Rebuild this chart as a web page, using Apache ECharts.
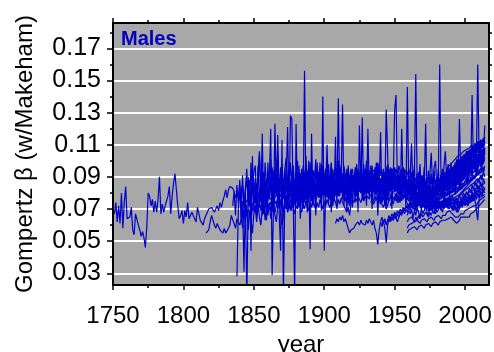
<!DOCTYPE html>
<html>
<head>
<meta charset="utf-8">
<script src="https://cdn.jsdelivr.net/npm/echarts@6/dist/echarts.min.js"></script>
<style>
  html, body { margin: 0; padding: 0; background: #fff; }
  #chart { width: 494px; height: 352px; }
</style>
</head>
<body>
<div id="chart"></div>
<script>
// Gompertz beta (model with Makeham term), males, one line per population.
const xTicks = [1750, 1800, 1850, 1900, 1950, 2000];
const xMinorTicks = [1775, 1825, 1875, 1925, 1975];
const yTicks = [0.03, 0.05, 0.07, 0.09, 0.11, 0.13, 0.15, 0.17];
const yMinorTicks = [0.04, 0.06, 0.08, 0.10, 0.12, 0.14, 0.16, 0.18];
const yRightTicks = [0.03, 0.04, 0.05, 0.06, 0.07, 0.08, 0.09, 0.10, 0.11, 0.12, 0.13, 0.14, 0.15, 0.16, 0.17, 0.18];
const panelTitle = 'Males';

// Each population: first year, then one value per year.
const swedenStart = 1751;
const sweden = [
  .067,.074,.062,.072,.061,.080,.058,.074,.084,.064,
  .063,.065,.071,.057,.054,.067,.066,.060,.057,.053,
  .056,.052,.046,.059,.080,.078,.072,.076,.068,.075,
  .068,.076,.090,.067,.073,.068,.072,.075,.078,.084,
  .067,.078,.086,.092,.082,.072,.064,.066,.069,.061,
  .069,.065,.074,.064,.066,.068,.067,.064,.062,.071,
  .067,.063,.062,.060,.064,
  .066,.068,.070,.069,.071,.072,.068,.070,.072,.069,.074,.071,.075,.078,.082,.077,.082,.084,.085,.083,.081,.077,.080,.078,.076,
  .076,.085,.073,.082,.088,.075,.084,.070,.089,.079,
  .074,.086,.080,.072,.090,.081,.076,.088,.078,.084,
  .077,.089,.081,.073,.086,.079,.092,.076,.083,.087,
  .080,.074,.085,.090,.077,.083,.088,.079,.086,.075,
  .087,.082,.076,.091,.084,.078,.088,.081,.093,.083,
  .079,.089,.082,.094,.085,.077,.088,.092,.080,.087,
  .083,.091,.078,.086,.093,.081,.089,.084,.087,.095,
  .082,.090,.085,.088,.079,.086,.094,.076,.089,.083,
  .091,.084,.095,.080,.088,.097,.083,.090,.081,.094,
  .086,.079,.093,.084,.090,.078,.087,.096,.082,.089,
  .080,.092,.087,.078,.091,.085,.094,.081,.088,.096,
  .085,.083,.086,.084,.082,.085,.087,.083,.086,.084,
  .086,.084,.082,.085,.083,.086,.084,.087,.083,.085,
  .083,.086,.084,.082,.085,.087,.084,.086,.088,.085,
  .087,.089,.086,.090,.088,.091,.089,.092,.090,.093,
  .091,.094,.092,.095,.093,.096,.094,.097,.095,.098,
  .097,.099,.096,.100,.098,.101,.099,.102,.100,.103,
  .101,.104,.102,.105
];

const franceStart = 1816;
const france = [
  .055,.056,.057,.062,.066,.065,.060,.058,.061,.059,.057,.056,.055,.058,.055,.056,.058,.060,.066,.067,.061,.058,.064,.062,.060,
  .063,.067,.065,.069,.066,.070,.068,.064,.071,.069,
  .072,.070,.068,.073,.071,.074,.069,.072,.075,.073,
  .071,.074,.076,.072,.075,.073,.077,.074,.076,.070,
  .068,.076,.078,.075,.077,.079,.076,.078,.080,.077,
  .079,.077,.080,.078,.081,.079,.077,.080,.082,.078,
  .080,.078,.081,.079,.082,.080,.078,.081,.079,.082,
  .080,.083,.081,.079,.082,.080,.083,.081,.084,.082,
  .080,.083,.081,.077,.075,.078,.076,.072,.079,.082,
  .081,.083,.080,.084,.082,.080,.083,.081,.084,.082,
  .080,.083,.081,.084,.082,.080,.083,.081,.079,.076,
  .074,.077,.079,.075,.078,.082,.084,.083,.085,.083,
  .084,.082,.085,.083,.086,.084,.082,.085,.083,.086,
  .084,.082,.085,.083,.081,.084,.082,.085,.083,.081,
  .083,.081,.084,.082,.080,.083,.081,.084,.082,.085,
  .083,.086,.084,.087,.085,.088,.086,.089,.087,.090,
  .088,.091,.089,.092,.090,.093,.091,.094,.092,.095,
  .094,.096,.093,.097,.095,.098,.096,.099,.097,.100,
  .099,.101,.098,.102
];

const denmarkStart = 1835;
const denmark = [
  .072,.081,.066,.085,.074,.088,
  .070,.091,.068,.083,.095,.072,.086,.064,.093,.077,
  .089,.070,.097,.075,.087,.066,.092,.081,.071,.099,
  .076,.090,.068,.094,.079,.101,.073,.085,.096,.070,
  .088,.078,.098,.072,.091,.083,.069,.095,.080,.087,
  .074,.097,.082,.090,.071,.093,.086,.077,.100,.079,
  .092,.075,.088,.096,.078,.085,.099,.073,.090,.083,
  .095,.077,.089,.082,.098,.074,.091,.085,.079,.094,
  .081,.096,.076,.088,.092,.079,.097,.084,.075,.090,
  .086,.093,.078,.095,.083,.089,.076,.098,.085,.091,
  .080,.094,.087,.077,.092,.085,.099,.082,.088,.079,
  .093,.084,.090,.078,.096,.086,.081,.094,.088,.083,
  .084,.087,.083,.086,.082,.085,.088,.084,.087,.083,
  .086,.083,.087,.084,.081,.085,.082,.086,.083,.080,
  .084,.081,.079,.083,.080,.078,.082,.079,.077,.081,
  .078,.080,.077,.079,.076,.080,.078,.081,.079,.082,
  .080,.083,.081,.084,.082,.085,.083,.086,.084,.087,
  .086,.089,.087,.090,.088,.091,.089,.093,.091,.094,
  .093,.096,.094,.097
];

const icelandStart = 1838;
const iceland = [
  .028,.070,.085,
  .062,.075,.031,.080,.015,.072,.088,.044,.103,.070,
  .082,.066,.091,.106,.074,.117,.068,.085,.063,.079,
  .088,.120,.029,.072,.123,.080,.116,.067,.044,.113,
  .018,.078,.090,.121,.070,.128,.126,.073,.018,.123,
  .075,.092,.064,.083,.070,.156,.079,.068,.088,.045,
  .117,.072,.084,.066,.099,.078,.090,.069,.140,.044,
  .081,.110,.073,.088,.068,.092,.076,.115,.070,.139,
  .078,.086,.135,.072,.090,.069,.084,.076,.095,.071,
  .087,.074,.093,.068,.122,.080,.127,.075,.089,.072,
  .120,.078,.092,.070,.086,.081,.095,.066,.084,.118,
  .075,.090,.073,.132,.133,.078,.094,.070,.088,.132,
  .141,.080,.092,.074,.120,.083,.095,.071,.146,.085,
  .078,.093,.081,.097,.076,.089,.084,.098,.079,.091,
  .083,.123,.077,.094,.086,.092,.080,.096,.100,.082,
  .095,.084,.091,.079,.097,.106,.088,.093,.085,.099,
  .090,.096,.087,.101,.092,.126,.089,.098,.094,.103,
  .095,.100,.092,.106,.098,.097,.104,.099,.160,.101,
  .108,.098,.110,.104
];

const englandWalesStart = 1841;
const englandWales = [
  .074,.075,.073,.076,.074,.077,.072,.075,.071,.076,
  .075,.077,.074,.073,.076,.078,.075,.077,.076,.078,
  .077,.076,.078,.075,.077,.079,.078,.076,.079,.078,
  .077,.079,.080,.078,.077,.080,.081,.079,.078,.081,
  .080,.082,.081,.080,.082,.083,.081,.082,.084,.082,
  .081,.083,.082,.084,.083,.085,.084,.083,.085,.084,
  .086,.085,.087,.086,.088,.087,.086,.088,.087,.089,
  .088,.089,.087,.090,.088,.086,.089,.085,.088,.090,
  .089,.091,.090,.092,.090,.091,.089,.092,.090,.093,
  .092,.091,.093,.092,.094,.093,.092,.094,.093,.091,
  .090,.092,.091,.093,.092,.094,.093,.095,.094,.093,
  .092,.094,.093,.092,.091,.093,.092,.090,.091,.090,
  .089,.090,.088,.089,.087,.088,.086,.087,.086,.085,
  .086,.085,.084,.085,.084,.083,.084,.083,.084,.085,
  .086,.087,.088,.087,.089,.090,.091,.092,.093,.094,
  .095,.096,.097,.098,.099,.100,.101,.102,.103,.104,
  .104,.105,.106,.106,.107,.108,.108,.109,.110,.110,
  .111,.110,.112,.111
];

const belgiumStart = 1841;
const belgium = [
  .066,.058,.070,.062,.073,.057,.068,.063,.055,.067,
  .071,.062,.074,.065,.060,.070,.075,.063,.071,.066,
  .074,.064,.070,.077,.066,.062,.072,.076,.067,.060,
  .065,.073,.078,.068,.074,.070,.079,.071,.075,.080,
  .071,.078,.073,.081,.074,.077,.082,.074,.079,.083,
  .075,.080,.084,.076,.081,.085,.077,.082,.086,.078,
  .083,.078,.086,.080,.085,.081,.077,.084,.079,.086,
  .081,.087,.082,.077,.075,.081,.078,.073,.082,.085,
  .082,.087,.080,.084,.088,.081,.086,.079,.084,.088,
  .083,.079,.086,.081,.088,.083,.079,.086,.082,.077,
  .075,.081,.077,.072,.079,.083,.086,.082,.087,.081,
  .084,.082,.085,.083,.081,.084,.082,.085,.083,.081,
  .083,.081,.079,.082,.080,.078,.081,.079,.077,.080,
  .078,.076,.079,.077,.075,.078,.076,.074,.077,.075,
  .077,.076,.078,.077,.079,.078,.080,.079,.081,.082,
  .081,.083,.084,.085,.086,.087,.088,.089,.090,.091,
  .092,.093,.094,.095,.096,.097,.098,.099,.100,.101,
  .102,.103,.102,.104
];

const norwayStart = 1846;
const norway = [
  .090,.074,.099,.080,.093,
  .097,.076,.088,.104,.081,.094,.071,.099,.084,.092,
  .078,.101,.086,.073,.096,.083,.105,.079,.090,.098,
  .082,.095,.102,.087,.076,.099,.088,.093,.080,.091,
  .100,.084,.092,.077,.097,.086,.103,.081,.090,.096,
  .083,.094,.088,.101,.079,.093,.086,.098,.084,.090,
  .095,.082,.091,.087,.099,.080,.089,.096,.084,.093,
  .087,.097,.082,.092,.086,.095,.080,.090,.094,.085,
  .091,.086,.098,.083,.090,.096,.084,.093,.088,.100,
  .086,.092,.082,.097,.088,.094,.085,.099,.090,.081,
  .089,.083,.093,.086,.097,.090,.084,.095,.088,.092,
  .087,.091,.088,.085,.090,.087,.092,.089,.086,.090,
  .088,.085,.089,.086,.083,.087,.084,.088,.085,.082,
  .086,.083,.081,.085,.082,.080,.084,.081,.079,.083,
  .080,.084,.082,.085,.083,.086,.084,.088,.086,.089,
  .087,.091,.089,.093,.090,.094,.092,.096,.093,.098,
  .095,.099,.097,.101,.098,.103,.100,.104,.102,.106,
  .103,.107,.105,.108
];

const netherlandsStart = 1850;
const netherlands = [
  .068,
  .072,.066,.070,.074,.069,.073,.067,.071,.075,.070,
  .073,.069,.074,.071,.068,.072,.076,.070,.074,.071,
  .069,.073,.070,.075,.072,.076,.073,.071,.075,.078,
  .074,.077,.073,.076,.079,.075,.078,.076,.080,.077,
  .079,.076,.080,.078,.081,.077,.080,.082,.079,.081,
  .078,.082,.080,.083,.079,.082,.084,.081,.083,.080,
  .083,.081,.084,.082,.085,.083,.081,.078,.082,.084,
  .082,.085,.083,.086,.084,.082,.085,.083,.086,.084,
  .086,.084,.087,.085,.083,.086,.084,.087,.085,.083,
  .081,.079,.082,.078,.076,.084,.086,.084,.087,.085,
  .086,.084,.087,.085,.088,.086,.084,.087,.085,.088,
  .086,.084,.087,.085,.083,.086,.084,.082,.085,.083,
  .081,.084,.082,.080,.083,.081,.079,.082,.080,.083,
  .081,.084,.082,.085,.083,.086,.085,.088,.087,.090,
  .089,.092,.091,.094,.093,.096,.095,.098,.097,.100,
  .099,.101,.100,.103,.102,.105,.104,.106,.105,.108,
  .107,.109,.108,.110
];

const scotlandStart = 1855;
const scotland = [
  .084,.078,.093,.081,.088,.075,
  .090,.083,.096,.079,.087,.092,.076,.089,.085,.098,
  .081,.091,.086,.077,.094,.083,.089,.097,.080,.088,
  .093,.079,.087,.095,.084,.090,.078,.092,.086,.099,
  .082,.094,.088,.080,.096,.085,.091,.083,.097,.087,
  .090,.084,.098,.086,.081,.095,.089,.093,.085,.100,
  .088,.092,.083,.097,.090,.086,.094,.080,.091,.095,
  .087,.096,.089,.093,.085,.099,.091,.088,.095,.090,
  .094,.088,.097,.091,.086,.096,.092,.089,.098,.093,
  .090,.095,.087,.093,.098,.091,.096,.089,.094,.092,
  .095,.091,.097,.093,.090,.096,.092,.094,.091,.095,
  .092,.089,.094,.090,.088,.092,.089,.091,.087,.090,
  .088,.086,.090,.087,.085,.089,.086,.088,.085,.087,
  .089,.087,.091,.090,.093,.091,.095,.094,.097,.096,
  .099,.098,.101,.100,.103,.102,.104,.103,.106,.105,
  .107,.106,.108,.107,.110,.108,.111,.109,.112,.110,
  .113,.111,.114,.112
];

const italyStart = 1872;
const italy = [
  .070,.074,.068,.072,.069,.073,.071,.067,.072,
  .070,.074,.071,.068,.073,.070,.075,.072,.069,.074,
  .071,.075,.072,.070,.074,.071,.076,.073,.070,.075,
  .072,.076,.073,.071,.075,.072,.077,.074,.071,.076,
  .073,.077,.074,.072,.070,.068,.071,.066,.073,.076,
  .074,.077,.075,.078,.076,.074,.077,.075,.078,.076,
  .078,.076,.079,.077,.075,.078,.076,.079,.077,.075,
  .073,.071,.074,.070,.072,.076,.078,.080,.079,.081,
  .080,.082,.081,.079,.082,.080,.083,.081,.079,.082,
  .080,.078,.081,.079,.077,.080,.078,.076,.079,.077,
  .078,.076,.074,.077,.075,.073,.076,.074,.072,.075,
  .074,.076,.075,.077,.076,.078,.077,.079,.078,.080,
  .079,.081,.080,.082,.081,.083,.084,.085,.086,.087,
  .088,.089,.090,.091,.092,.093,.094,.095,.096,.097,
  .098,.099,.100,.101
];

const switzerlandStart = 1876;
const switzerland = [
  .078,.085,.072,.081,.088,
  .076,.083,.090,.079,.086,.074,.092,.081,.077,.087,
  .082,.075,.089,.080,.084,.093,.078,.086,.081,.090,
  .079,.088,.083,.076,.091,.084,.080,.089,.085,.078,
  .087,.082,.092,.080,.085,.078,.090,.074,.083,.088,
  .084,.079,.089,.086,.081,.092,.083,.087,.080,.090,
  .085,.082,.091,.084,.088,.080,.093,.086,.083,.089,
  .087,.083,.090,.085,.081,.092,.086,.089,.084,.091,
  .088,.085,.092,.087,.083,.090,.086,.089,.084,.088,
  .086,.083,.087,.084,.081,.085,.082,.086,.080,.084,
  .082,.079,.084,.080,.083,.078,.082,.080,.084,.081,
  .083,.086,.084,.088,.086,.090,.089,.092,.091,.094,
  .093,.096,.095,.098,.097,.100,.099,.102,.101,.104,
  .103,.106,.104,.107,.105,.108,.107,.110,.108,.111,
  .110,.112,.111,.113
];

const finlandStart = 1878;
const finland = [
  .083,.076,.090,
  .079,.087,.074,.092,.081,.085,.077,.094,.080,.088,
  .075,.089,.083,.078,.096,.082,.087,.076,.091,.084,
  .079,.093,.081,.086,.075,.090,.084,.078,.095,.082,
  .088,.080,.092,.077,.085,.089,.079,.072,.086,.091,
  .083,.087,.078,.093,.081,.088,.084,.079,.090,.085,
  .082,.089,.086,.080,.091,.084,.087,.081,.088,.078,
  .076,.083,.080,.077,.085,.088,.084,.090,.086,.083,
  .087,.084,.089,.085,.082,.088,.085,.083,.087,.084,
  .081,.085,.082,.079,.083,.080,.078,.082,.079,.077,
  .080,.078,.076,.079,.077,.075,.078,.076,.074,.077,
  .075,.078,.077,.080,.079,.082,.081,.084,.083,.085,
  .084,.087,.086,.089,.088,.091,.090,.093,.092,.095,
  .094,.097,.096,.099,.098,.101,.100,.103,.102,.105,
  .104,.106,.105,.107
];

const spainStart = 1908;
const spain = [
  .061,.064,.062,
  .065,.063,.066,.062,.064,.061,.058,.055,.057,.056,
  .058,.060,.059,.062,.060,.063,.061,.062,.060,.063,
  .061,.064,.062,.060,.063,.058,.055,.048,.057,.062,
  .059,.063,.058,.049,.060,.064,.062,.065,.063,.066,
  .064,.062,.065,.067,.066,.069,.068,.071,.070,.072,
  .073,.072,.074,.073,.075,.074,.076,.075,.077,.076,
  .077,.078,.077,.079,.078,.080,.079,.081,.080,.082,
  .081,.083,.082,.084,.083,.085,.084,.086,.085,.087,
  .086,.088,.087,.089,.088,.090,.091,.092,.093,.094,
  .095,.096,.097,.098,.099,.100,.101,.102,.103,.104,
  .105,.106,.105,.107
];

const canadaStart = 1921;
const canada = [
  .081,.083,.080,.082,.084,.081,.083,.080,.082,.084,
  .082,.080,.083,.081,.084,.082,.080,.083,.081,.084,
  .082,.085,.083,.081,.084,.082,.085,.083,.086,.084,
  .085,.083,.086,.084,.082,.085,.083,.081,.084,.082,
  .080,.083,.081,.079,.082,.080,.078,.081,.079,.077,
  .080,.078,.076,.079,.077,.075,.078,.076,.079,.077,
  .079,.078,.080,.079,.081,.080,.082,.081,.083,.084,
  .083,.085,.086,.087,.088,.089,.090,.091,.092,.093,
  .094,.095,.096,.097,.098,.099,.100,.101,.102,.103,
  .104,.105,.104,.106
];

const australiaStart = 1921;
const australia = [
  .086,.083,.088,.085,.082,.087,.084,.089,.086,.083,
  .087,.084,.089,.086,.083,.088,.085,.082,.087,.084,
  .088,.085,.090,.087,.084,.089,.086,.083,.088,.085,
  .087,.084,.089,.086,.083,.088,.085,.082,.086,.083,
  .085,.082,.086,.083,.080,.084,.081,.083,.080,.082,
  .079,.082,.080,.078,.081,.079,.077,.080,.078,.081,
  .080,.083,.082,.085,.084,.087,.086,.089,.088,.091,
  .090,.093,.092,.095,.094,.097,.096,.099,.098,.101,
  .100,.103,.102,.105,.104,.107,.106,.109,.108,.110,
  .109,.112,.111,.113
];

const usaStart = 1933;
const usa = [
  .074,.076,.073,.075,.077,.074,.076,.073,
  .075,.077,.074,.076,.078,.075,.077,.079,.076,.078,
  .077,.079,.076,.078,.080,.077,.079,.076,.078,.077,
  .076,.078,.075,.077,.074,.076,.073,.075,.074,.072,
  .074,.072,.071,.073,.071,.070,.072,.071,.069,.071,
  .070,.072,.071,.073,.072,.074,.073,.075,.074,.076,
  .075,.077,.076,.078,.077,.079,.080,.081,.082,.083,
  .084,.085,.086,.087,.088,.089,.090,.091,.092,.093,
  .094,.095,.094,.096
];

const portugalStart = 1940;
const portugal = [
  .062,
  .065,.061,.064,.060,.063,.066,.062,.065,.063,.066,
  .064,.067,.065,.068,.066,.069,.067,.070,.068,.071,
  .069,.072,.070,.073,.071,.074,.072,.075,.073,.076,
  .074,.077,.075,.078,.076,.079,.077,.080,.078,.081,
  .079,.082,.080,.083,.081,.084,.082,.085,.083,.086,
  .084,.087,.085,.088,.086,.089,.087,.090,.088,.091,
  .090,.093,.091,.094,.093,.096,.094,.097,.096,.099,
  .098,.100,.099,.101
];

const japanStart = 1947;
const japan = [
  .064,.067,.065,.068,
  .066,.069,.067,.070,.068,.071,.069,.072,.070,.073,
  .071,.074,.072,.075,.073,.076,.074,.077,.075,.078,
  .076,.079,.077,.080,.078,.081,.079,.082,.080,.083,
  .081,.084,.082,.085,.083,.086,.084,.087,.085,.088,
  .087,.089,.088,.090,.089,.092,.091,.093,.092,.095,
  .094,.096,.095,.098,.097,.099,.098,.101,.100,.102,
  .101,.103,.102,.104
];

const austriaStart = 1947;
const austria = [
  .086,.089,.087,.090,
  .088,.091,.089,.086,.090,.087,.091,.088,.085,.089,
  .087,.084,.088,.085,.083,.086,.084,.082,.085,.083,
  .081,.084,.082,.080,.083,.081,.079,.082,.080,.083,
  .082,.085,.084,.087,.086,.089,.088,.091,.090,.093,
  .092,.095,.094,.097,.096,.099,.098,.100,.099,.102,
  .101,.104,.103,.106,.105,.107,.106,.109,.108,.111,
  .110,.112,.111,.114
];

const bulgariaStart = 1947;
const bulgaria = [
  .072,.076,.073,.077,
  .075,.078,.074,.077,.080,.076,.079,.082,.078,.081,
  .079,.082,.078,.081,.077,.080,.076,.079,.075,.078,
  .076,.074,.077,.073,.076,.072,.075,.071,.074,.072,
  .073,.071,.074,.072,.075,.073,.076,.074,.077,.075,
  .074,.076,.073,.075,.072,.074,.076,.075,.077,.079,
  .078,.080,.079,.081,.080,.082,.081,.083,.082,.084,
  .083,.085,.084,.086
];

const newZealandStart = 1948;
const newZealand = [
  .088,.082,.091,
  .085,.093,.080,.089,.095,.083,.090,.086,.079,.092,
  .084,.088,.081,.090,.078,.086,.083,.080,.087,.079,
  .083,.077,.086,.080,.084,.076,.082,.079,.085,.081,
  .086,.083,.089,.085,.091,.088,.093,.090,.095,.092,
  .096,.094,.099,.096,.101,.098,.103,.100,.104,.102,
  .106,.103,.107,.105,.109,.106,.110,.108,.112,.109,
  .113,.110,.114,.111
];

const hungaryStart = 1950;
const hungary = [
  .080,
  .078,.081,.079,.082,.080,.077,.081,.079,.082,.080,
  .078,.081,.079,.076,.079,.077,.075,.078,.076,.074,
  .077,.075,.073,.076,.074,.072,.075,.073,.071,.074,
  .072,.074,.073,.075,.074,.076,.075,.077,.076,.078,
  .077,.079,.078,.080,.079,.082,.081,.083,.082,.085,
  .084,.086,.085,.088,.087,.089,.088,.091,.090,.092,
  .091,.093,.092,.094
];

const czechiaStart = 1950;
const czechia = [
  .083,
  .081,.084,.082,.085,.083,.080,.084,.082,.085,.083,
  .081,.084,.082,.079,.082,.080,.078,.081,.079,.077,
  .080,.078,.076,.079,.077,.075,.078,.076,.074,.077,
  .075,.078,.077,.079,.078,.080,.079,.082,.081,.083,
  .082,.085,.084,.087,.086,.089,.088,.091,.090,.093,
  .092,.095,.094,.097,.096,.099,.098,.101,.100,.103,
  .102,.105,.104,.106
];

const irelandStart = 1950;
const ireland = [
  .084,
  .087,.082,.089,.085,.080,.088,.083,.091,.086,.081,
  .088,.084,.079,.086,.082,.089,.083,.080,.087,.084,
  .081,.086,.083,.078,.085,.082,.079,.084,.080,.083,
  .085,.082,.087,.084,.089,.086,.091,.088,.093,.090,
  .094,.092,.096,.093,.098,.095,.100,.097,.101,.099,
  .103,.100,.105,.102,.107,.104,.108,.105,.110,.107,
  .111,.108,.112,.110
];

const slovakiaStart = 1950;
const slovakia = [
  .076,
  .079,.074,.078,.081,.075,.079,.077,.082,.076,.080,
  .078,.075,.080,.076,.073,.078,.075,.072,.077,.074,
  .072,.076,.073,.070,.075,.072,.069,.074,.071,.073,
  .071,.074,.072,.075,.073,.076,.074,.077,.075,.078,
  .077,.079,.078,.081,.080,.082,.081,.084,.083,.085,
  .084,.087,.086,.088,.087,.090,.089,.091,.090,.093,
  .092,.094,.093,.095
];

const germanyWestStart = 1956;
const germanyWest = [
  .087,.084,.088,.085,.089,
  .086,.083,.087,.084,.082,.085,.083,.081,.084,.082,
  .080,.083,.081,.079,.082,.080,.078,.081,.079,.082,
  .081,.084,.083,.086,.085,.088,.087,.090,.089,.092,
  .091,.094,.093,.096,.095,.098,.097,.100,.099,.102,
  .101,.103,.102,.105,.104,.106,.105,.108,.107,.109,
  .108,.110,.109,.111
];

const polandStart = 1958;
const poland = [
  .074,.077,.075,
  .078,.076,.079,.077,.075,.078,.076,.074,.077,.075,
  .073,.076,.074,.072,.075,.073,.071,.074,.072,.070,
  .073,.071,.074,.072,.070,.073,.071,.074,.072,.075,
  .073,.076,.074,.077,.075,.078,.077,.080,.079,.082,
  .081,.083,.082,.085,.084,.086,.085,.088,.087,.089,
  .088,.091,.090,.092
];

const russiaStart = 1959;
const russia = [
  .055,.057,
  .056,.058,.057,.059,.058,.057,.059,.058,.060,.059,
  .058,.060,.059,.061,.060,.059,.061,.060,.062,.061,
  .060,.062,.061,.063,.064,.063,.062,.064,.063,.065,
  .064,.063,.062,.061,.062,.063,.065,.066,.065,.064,
  .065,.066,.065,.067,.066,.068,.069,.070,.071,.072,
  .073,.074,.075,.076
];

const ukraineStart = 1959;
const ukraine = [
  .058,.060,
  .059,.061,.060,.062,.061,.063,.062,.061,.063,.062,
  .064,.063,.062,.064,.063,.065,.064,.063,.065,.064,
  .066,.065,.064,.066,.067,.066,.068,.067,.069,.068,
  .067,.066,.065,.064,.065,.066,.067,.068,.067,.069,
  .068,.070,.069,.071,.070,.072,.073,.072,.074,.075,
  .076,.075,.077,.078
];

const belarusStart = 1959;
const belarus = [
  .062,.064,
  .063,.065,.064,.062,.065,.063,.066,.064,.067,.065,
  .066,.068,.067,.065,.068,.066,.069,.067,.070,.068,
  .069,.071,.070,.072,.071,.073,.072,.074,.073,.072,
  .071,.070,.069,.071,.070,.072,.071,.073,.072,.074,
  .073,.072,.074,.073,.075,.074,.076,.075,.063,.077,
  .076,.078,.077,.079
];

const latviaStart = 1959;
const latvia = [
  .066,.069,
  .067,.070,.064,.069,.066,.071,.068,.065,.070,.067,
  .069,.072,.068,.066,.071,.069,.073,.070,.067,.072,
  .070,.074,.071,.068,.073,.071,.075,.072,.070,.074,
  .071,.069,.072,.070,.068,.071,.074,.072,.075,.073,
  .076,.074,.077,.075,.078,.076,.079,.077,.080,.078,
  .081,.079,.082,.080
];

const lithuaniaStart = 1959;
const lithuania = [
  .070,.073,
  .071,.074,.072,.069,.073,.071,.075,.072,.070,.074,
  .072,.070,.073,.071,.069,.072,.070,.073,.071,.074,
  .072,.075,.073,.071,.074,.072,.076,.073,.075,.072,
  .070,.073,.071,.069,.072,.070,.073,.071,.074,.072,
  .075,.073,.076,.074,.077,.075,.078,.076,.079,.077,
  .080,.078,.081,.083
];

const estoniaStart = 1959;
const estonia = [
  .074,.070,
  .076,.071,.078,.073,.069,.075,.072,.077,.070,.074,
  .071,.076,.073,.069,.075,.072,.078,.070,.074,.071,
  .076,.072,.069,.075,.071,.077,.073,.070,.076,.072,
  .069,.074,.071,.068,.073,.070,.076,.072,.078,.074,
  .077,.073,.079,.075,.081,.077,.083,.079,.085,.081,
  .087,.083,.089,.086
];

const luxembourgStart = 1960;
const luxembourg = [
  .082,
  .090,.111,.079,.088,.154,.085,.093,.077,.091,.084,
  .096,.080,.089,.075,.092,.105,.083,.094,.079,.090,
  .086,.160,.081,.095,.077,.092,.088,.098,.083,.094,
  .080,.097,.089,.085,.100,.082,.093,.087,.102,.090,
  .096,.086,.104,.092,.141,.095,.108,.090,.103,.098,
  .112,.095,.106,.122
];

const taiwanStart = 1970;
const taiwan = [
  .071,
  .074,.070,.073,.069,.072,.075,.071,.074,.070,.073,
  .076,.072,.075,.071,.074,.077,.073,.076,.072,.075,
  .078,.074,.077,.073,.076,.079,.075,.078,.080,.077,
  .081,.078,.083,.080,.085,.082,.087,.084,.089,.086,
  .091,.088,.093,.090
];

const greeceStart = 1981;
const greece = [
  .082,.085,.081,.086,.083,.087,.084,.088,.085,.089,
  .086,.090,.088,.091,.089,.093,.090,.094,.092,.095,
  .093,.097,.095,.098,.096,.100,.098,.101,.099,.103,
  .101,.104,.102,.106
];

const israelStart = 1983;
const israel = [
  .088,.083,.091,.086,.093,.084,.095,.089,
  .092,.097,.090,.096,.093,.099,.094,.101,.097,.103,
  .099,.104,.100,.106,.102,.108,.103,.109,.105,.111,
  .107,.113,.109,.115
];

const sloveniaStart = 1983;
const slovenia = [
  .079,.088,.075,.092,.081,.086,.077,.094,
  .083,.090,.079,.096,.085,.091,.082,.099,.088,.094,
  .086,.101,.091,.097,.089,.104,.093,.099,.092,.106,
  .096,.103,.098,.108
];

const chileStart = 1992;
const chile = [
  .071,.074,.072,.075,.073,.076,.074,.077,.075,
  .078,.076,.079,.077,.080,.078,.081,.079,.082,.080,
  .083,.081,.084,.082
];

const populations = [
  ['Sweden', swedenStart, sweden],
  ['France', franceStart, france],
  ['Denmark', denmarkStart, denmark],
  ['Iceland', icelandStart, iceland],
  ['England & Wales', englandWalesStart, englandWales],
  ['Belgium', belgiumStart, belgium],
  ['Norway', norwayStart, norway],
  ['Netherlands', netherlandsStart, netherlands],
  ['Scotland', scotlandStart, scotland],
  ['Italy', italyStart, italy],
  ['Switzerland', switzerlandStart, switzerland],
  ['Finland', finlandStart, finland],
  ['Spain', spainStart, spain],
  ['Canada', canadaStart, canada],
  ['Australia', australiaStart, australia],
  ['USA', usaStart, usa],
  ['Portugal', portugalStart, portugal],
  ['Japan', japanStart, japan],
  ['Austria', austriaStart, austria],
  ['Bulgaria', bulgariaStart, bulgaria],
  ['New Zealand', newZealandStart, newZealand],
  ['Hungary', hungaryStart, hungary],
  ['Czechia', czechiaStart, czechia],
  ['Ireland', irelandStart, ireland],
  ['Slovakia', slovakiaStart, slovakia],
  ['West Germany', germanyWestStart, germanyWest],
  ['Poland', polandStart, poland],
  ['Russia', russiaStart, russia],
  ['Ukraine', ukraineStart, ukraine],
  ['Belarus', belarusStart, belarus],
  ['Latvia', latviaStart, latvia],
  ['Lithuania', lithuaniaStart, lithuania],
  ['Estonia', estoniaStart, estonia],
  ['Luxembourg', luxembourgStart, luxembourg],
  ['Taiwan', taiwanStart, taiwan],
  ['Greece', greeceStart, greece],
  ['Israel', israelStart, israel],
  ['Slovenia', sloveniaStart, slovenia],
  ['Chile', chileStart, chile]
];

const FONT = '"Liberation Sans", Arial, Helvetica, sans-serif';
const LINE_BLUE = '#0000cc';
const X_MIN = 1750, X_MAX = 2017;
const Y_MIN = 0.0227, Y_MAX = 0.1858;

const frameLine = { show: true, onZero: false, lineStyle: { color: '#000', width: 2 } };
const tickStyle = { color: '#000', width: 1.5 };

function xAxisDef(position, values, len, withLabels) {
  return {
    type: 'value', position: position, min: X_MIN, max: X_MAX, z: 10,
    axisLine: withLabels !== null ? frameLine : { show: false },
    axisTick: { show: true, inside: false, length: len, customValues: values, lineStyle: tickStyle },
    axisLabel: withLabels ? {
      show: true, customValues: values, formatter: v => String(v),
      color: '#000', fontSize: 24, fontFamily: FONT, margin: 19
    } : { show: false, customValues: values },
    splitLine: { show: false }
  };
}
function yAxisDef(position, values, len, withLabels) {
  return {
    type: 'value', position: position, min: Y_MIN, max: Y_MAX, z: 10,
    axisLine: withLabels !== null ? frameLine : { show: false },
    axisTick: { show: true, inside: false, length: len, customValues: values, lineStyle: tickStyle },
    axisLabel: withLabels ? {
      show: true, customValues: values, formatter: v => v.toFixed(2),
      color: '#000', fontSize: 25, fontFamily: FONT, margin: 12
    } : { show: false, customValues: values },
    splitLine: { show: false }
  };
}

const xBottom = xAxisDef('bottom', xTicks, 5, true);
xBottom.name = 'year';
xBottom.nameLocation = 'middle';
xBottom.nameGap = 35;
xBottom.nameTextStyle = { color: '#000', fontSize: 24, fontFamily: FONT };

const yLeft = yAxisDef('left', yTicks, 6, true);
yLeft.name = 'Gompertz β (w/Makeham)';
yLeft.nameLocation = 'middle';
yLeft.nameRotate = 90;
yLeft.nameGap = 76;
yLeft.nameTextStyle = { color: '#000', fontSize: 24, fontFamily: FONT };

const series = [{
  // white reference lines behind the data
  type: 'line', data: [], xAxisIndex: 0, yAxisIndex: 0, silent: true, z: 1,
  markLine: {
    z: 1, silent: true, symbol: ['none', 'none'], animation: false,
    label: { show: false },
    lineStyle: { color: '#ffffff', width: 2, type: 'solid' },
    emphasis: { disabled: true },
    data: yTicks.map(v => ({ yAxis: v }))
  }
}];
populations.forEach(([name, start, values]) => {
  series.push({
    name: name, type: 'line', xAxisIndex: 0, yAxisIndex: 0, z: 3,
    showSymbol: false, symbol: 'none', clip: true, silent: true,
    lineStyle: { color: LINE_BLUE, width: 1.2 },
    data: values.map((v, i) => [start + i, v])
  });
});

const chart = echarts.init(document.getElementById('chart'), null, { renderer: 'canvas' });
chart.setOption({
  animation: false,
  title: {
    text: panelTitle, left: 121, top: 29, padding: 0,
    textStyle: { color: '#0000c0', fontSize: 20, fontWeight: 'bold', fontFamily: FONT }
  },
  grid: {
    left: 113, right: 5, top: 23, bottom: 67,
    containLabel: false, outerBoundsMode: 'none',
    show: true, backgroundColor: '#a8a8a8', borderWidth: 0
  },
  xAxis: [
    xBottom,
    xAxisDef('bottom', xMinorTicks, 3, false),
    xAxisDef('top', xTicks, 5, false),
    xAxisDef('top', xMinorTicks, 3, null)
  ],
  yAxis: [
    yLeft,
    yAxisDef('left', yMinorTicks, 3, null),
    yAxisDef('right', yRightTicks, 3, false)
  ],
  series: series
});
</script>
</body>
</html>
